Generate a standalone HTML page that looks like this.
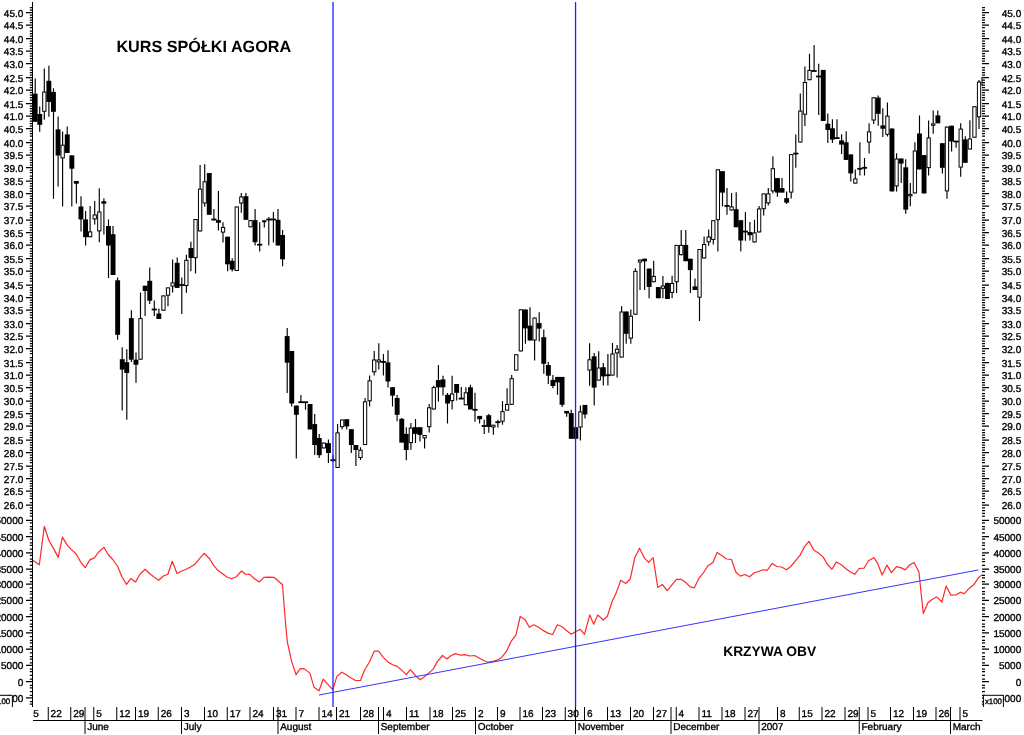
<!DOCTYPE html>
<html lang="pl"><head><meta charset="utf-8"><title>Kurs spółki Agora - OBV</title>
<style>html,body{margin:0;padding:0;background:#fff;overflow:hidden}svg{display:block}text{font-family:"Liberation Sans",Arial,sans-serif;text-rendering:geometricPrecision}</style></head><body>
<svg width="1024" height="735" viewBox="0 0 1024 735">
<rect width="1024" height="735" fill="#fff"/>
<defs><clipPath id="plot"><rect x="33" y="0" width="950" height="707"/></clipPath><clipPath id="bot"><rect x="33" y="700" width="991" height="35"/></clipPath></defs>
<g clip-path="url(#plot)">
<path d="M35.2 78.6V121.8M39.7 106.5V131.8M44.3 68.6V119.8M48.9 65.8V116.8M53.5 88.2V198.7M58.1 116.5V186.5M62.6 131.4V206.5M67.2 126.4V153.0M71.8 155.4V206.5M76.4 181.0V203.5M81.0 196.2V231.4M85.6 211.0V245.5M90.1 206.0V237.2M94.7 201.0V224.4M99.3 188.2V242.2M103.9 198.2V234.4M108.5 219.4V278.0M113.0 226.0V275.0M117.6 277.4V339.7M122.2 347.2V410.6M126.8 349.2V419.7M131.4 310.3V362.0M136.0 352.5V382.8M140.5 292.4V359.7M145.1 285.7V316.0M149.7 267.5V304.0M154.3 300.4V316.0M158.9 308.5V319.0M163.4 295.4V310.7M168.0 287.4V306.2M172.6 259.6V292.4M177.2 257.6V287.9M181.8 277.4V314.0M186.4 254.8V292.7M190.9 241.7V271.3M195.5 219.0V273.4M200.1 165.0V231.4M204.7 164.2V206.8M209.3 173.0V214.8M213.9 209.0V220.6M218.4 191.0V230.6M223.0 222.3V242.6M227.6 236.7V271.3M232.2 258.3V271.6M236.8 206.5V271.0M241.3 192.9V212.8M245.9 192.9V219.8M250.5 220.1V227.3M255.1 209.0V245.5M259.7 222.3V251.4M264.3 220.3V227.6M268.8 217.0V245.5M273.4 212.0V242.6M278.0 209.0V245.5M282.6 230.0V266.3M287.2 328.0V393.0M291.7 351.0V406.4M296.3 405.6V458.4M300.9 395.0V402.2M305.5 402.2V409.7M310.1 404.0V429.4M314.7 414.1V455.0M319.2 433.9V458.0M323.8 442.6V448.4M328.4 439.6V463.0M333.0 455.0V462.0M337.6 424.0V468.0M342.1 419.5V429.5M346.7 419.2V429.4M351.3 429.2V453.0M355.9 445.0V466.0M360.5 447.2V460.0M365.1 398.1V445.1M369.6 375.4V406.3M374.2 351.0V375.6M378.8 343.3V369.5M383.4 354.0V375.6M388.0 350.2V387.6M392.5 387.2V406.4M397.1 395.1V421.3M401.7 418.0V442.6M406.3 427.2V460.2M410.9 423.1V449.7M415.5 418.9V443.1M420.0 427.2V441.4M424.6 435.0V448.4M429.2 404.0V432.6M433.8 385.7V409.5M438.4 365.0V401.4M443.0 375.7V395.6M447.5 393.0V423.6M452.1 375.7V409.4M456.7 384.0V400.6M461.3 387.0V398.6M465.9 387.3V405.3M470.4 384.8V409.4M475.0 392.8V421.7M479.6 415.9V423.4M484.2 419.7V433.9M488.8 413.9V432.7M493.4 424.7V434.7M497.9 419.7V427.5M502.5 401.1V424.7M507.1 388.2V410.6M511.7 374.9V404.8M516.3 354.2V370.6M520.8 309.3V351.4M525.4 309.5V343.8M530.0 307.3V340.5M534.6 317.6V360.6M539.2 312.3V341.4M543.8 329.4V373.7M548.3 362.0V384.0M552.9 374.9V388.2M557.5 376.9V394.8M562.1 376.9V407.0M566.7 410.9V416.7M571.2 409.8V438.8M575.8 427.2V438.8M580.4 405.6V440.5M585.0 404.9V418.4M589.6 343.2V385.8M594.2 353.1V405.5M598.7 351.2V380.6M603.3 363.0V385.5M607.9 354.0V385.5M612.5 343.1V375.6M617.1 345.1V377.6M621.6 306.2V357.6M626.2 311.5V343.8M630.8 309.4V343.8M635.4 268.3V314.7M640.0 259.6V289.9M644.6 258.7V289.9M649.1 268.6V298.2M653.7 260.8V282.2M658.3 287.1V298.2M662.9 276.1V298.2M667.5 282.5V299.0M672.1 275.7V298.2M676.6 244.9V293.0M681.2 230.0V255.2M685.8 230.0V261.2M690.4 258.7V293.0M695.0 278.6V290.0M699.5 249.0V321.0M704.1 236.6V258.5M708.7 229.6V245.7M713.3 220.2V244.4M717.9 169.3V251.5M722.5 171.2V206.4M727.0 188.1V214.7M731.6 193.1V210.5M736.2 192.3V227.2M740.8 220.2V251.5M745.4 211.9V240.7M749.9 222.1V240.6M754.5 219.8V242.4M759.1 206.0V232.4M763.7 193.4V215.6M768.3 188.1V205.5M772.9 156.2V193.4M777.4 178.1V196.7M782.0 178.1V192.6M786.6 191.4V203.9M791.2 154.1V198.4M795.8 134.4V167.8M800.3 93.5V142.5M804.9 66.5V126.0M809.5 53.8V80.2M814.1 45.0V71.0M818.7 63.7V115.0M823.3 69.9V121.0M827.8 113.6V143.0M832.4 119.2V143.0M837.0 119.2V138.1M841.6 134.2V154.0M846.2 131.3V159.9M850.8 154.4V181.6M855.3 169.4V183.6M859.9 142.3V175.6M864.5 158.1V175.6M869.1 123.3V153.5M873.7 97.3V124.0M878.2 95.6V125.8M882.8 108.3V137.0M887.4 102.5V136.5M892.0 128.5V191.4M896.6 153.2V191.4M901.2 158.5V183.0M905.7 159.3V213.8M910.3 183.0V206.3M914.9 142.3V193.4M919.5 115.4V169.4M924.1 155.1V193.4M928.6 120.4V175.6M933.2 110.4V133.7M937.8 110.4V123.3M942.4 143.2V173.6M947.0 126.6V198.8M951.6 125.7V151.5M956.1 141.5V147.8M960.7 123.3V176.7M965.3 136.2V162.8M969.9 120.3V149.5M974.5 106.2V137.7M979.0 80.1V129.1M983.6 77.0V85.7" stroke="#000" stroke-width="1.15" fill="none"/>
<g fill="#fff" stroke="#000" stroke-width="1"><rect x="42.67" y="92.1" width="3.3" height="19.2"/><rect x="61.00" y="145.2" width="3.3" height="12.7"/><rect x="88.49" y="231.9" width="3.3" height="4.8"/><rect x="93.07" y="215.0" width="3.3" height="3.9"/><rect x="97.65" y="212.0" width="3.3" height="18.9"/><rect x="138.89" y="318.6" width="3.3" height="40.6"/><rect x="161.80" y="295.9" width="3.3" height="14.3"/><rect x="166.38" y="287.9" width="3.3" height="7.3"/><rect x="170.96" y="282.9" width="3.3" height="3.2"/><rect x="184.71" y="260.3" width="3.3" height="25.2"/><rect x="193.87" y="219.5" width="3.3" height="38.2"/><rect x="198.46" y="189.1" width="3.3" height="41.8"/><rect x="203.04" y="181.8" width="3.3" height="21.2"/><rect x="221.37" y="227.5" width="3.3" height="4.6"/><rect x="235.11" y="207.0" width="3.3" height="63.5"/><rect x="239.69" y="197.0" width="3.3" height="6.0"/><rect x="248.86" y="220.6" width="3.3" height="6.2"/><rect x="262.60" y="220.8" width="3.3" height="1.0"/><rect x="322.17" y="443.1" width="3.3" height="4.8"/><rect x="335.92" y="432.9" width="3.3" height="34.6"/><rect x="340.50" y="420.0" width="3.3" height="6.7"/><rect x="358.83" y="450.2" width="3.3" height="7.3"/><rect x="363.41" y="401.8" width="3.3" height="42.8"/><rect x="367.99" y="380.9" width="3.3" height="19.9"/><rect x="372.57" y="360.0" width="3.3" height="11.8"/><rect x="377.15" y="360.0" width="3.3" height="1.9"/><rect x="409.23" y="428.1" width="3.3" height="14.5"/><rect x="422.97" y="435.5" width="3.3" height="2.4"/><rect x="427.56" y="407.8" width="3.3" height="18.9"/><rect x="432.14" y="387.6" width="3.3" height="21.4"/><rect x="450.47" y="394.0" width="3.3" height="6.6"/><rect x="464.21" y="392.8" width="3.3" height="12.0"/><rect x="491.70" y="425.2" width="3.3" height="1.8"/><rect x="500.87" y="411.6" width="3.3" height="9.6"/><rect x="505.45" y="404.5" width="3.3" height="5.6"/><rect x="510.03" y="378.7" width="3.3" height="25.6"/><rect x="514.61" y="354.7" width="3.3" height="15.4"/><rect x="519.20" y="309.8" width="3.3" height="41.1"/><rect x="532.94" y="318.1" width="3.3" height="21.9"/><rect x="578.76" y="411.9" width="3.3" height="15.1"/><rect x="587.93" y="359.8" width="3.3" height="10.3"/><rect x="597.09" y="368.0" width="3.3" height="12.1"/><rect x="610.84" y="354.0" width="3.3" height="21.1"/><rect x="615.42" y="349.2" width="3.3" height="3.7"/><rect x="620.00" y="312.0" width="3.3" height="45.1"/><rect x="629.16" y="316.2" width="3.3" height="21.9"/><rect x="633.75" y="271.3" width="3.3" height="42.9"/><rect x="638.33" y="260.1" width="3.3" height="1.9"/><rect x="652.07" y="276.4" width="3.3" height="5.3"/><rect x="661.24" y="286.0" width="3.3" height="2.3"/><rect x="670.40" y="283.5" width="3.3" height="8.9"/><rect x="674.98" y="245.4" width="3.3" height="36.4"/><rect x="679.57" y="245.4" width="3.3" height="9.3"/><rect x="697.89" y="249.5" width="3.3" height="47.7"/><rect x="702.48" y="244.5" width="3.3" height="13.5"/><rect x="707.06" y="237.0" width="3.3" height="4.9"/><rect x="711.64" y="220.7" width="3.3" height="18.7"/><rect x="716.22" y="169.8" width="3.3" height="49.9"/><rect x="729.97" y="206.9" width="3.3" height="3.1"/><rect x="752.88" y="232.9" width="3.3" height="9.0"/><rect x="757.46" y="209.0" width="3.3" height="22.9"/><rect x="762.04" y="193.9" width="3.3" height="14.8"/><rect x="766.62" y="193.9" width="3.3" height="9.0"/><rect x="771.21" y="168.7" width="3.3" height="22.2"/><rect x="789.53" y="154.6" width="3.3" height="37.5"/><rect x="798.70" y="111.1" width="3.3" height="30.9"/><rect x="803.28" y="82.5" width="3.3" height="31.7"/><rect x="807.86" y="70.4" width="3.3" height="9.3"/><rect x="853.68" y="178.9" width="3.3" height="4.2"/><rect x="867.43" y="131.9" width="3.3" height="10.1"/><rect x="872.01" y="97.8" width="3.3" height="22.2"/><rect x="885.76" y="116.1" width="3.3" height="18.2"/><rect x="894.92" y="159.0" width="3.3" height="26.9"/><rect x="908.67" y="194.4" width="3.3" height="1.4"/><rect x="913.25" y="151.0" width="3.3" height="41.9"/><rect x="926.99" y="137.9" width="3.3" height="29.7"/><rect x="931.58" y="123.9" width="3.3" height="1.4"/><rect x="945.32" y="127.1" width="3.3" height="63.8"/><rect x="959.07" y="129.1" width="3.3" height="38.0"/><rect x="968.23" y="139.0" width="3.3" height="10.0"/><rect x="972.81" y="106.7" width="3.3" height="30.5"/><rect x="977.40" y="82.1" width="3.3" height="34.7"/><rect x="981.98" y="77.5" width="3.3" height="7.7"/></g>
<g fill="#000"><rect x="32.7" y="93.7" width="4.9" height="28.1"/><rect x="37.3" y="114.0" width="4.9" height="10.8"/><rect x="46.4" y="80.8" width="4.9" height="21.1"/><rect x="51.0" y="91.9" width="4.9" height="19.9"/><rect x="55.6" y="129.4" width="4.9" height="26.1"/><rect x="64.8" y="134.4" width="4.9" height="18.6"/><rect x="69.4" y="155.4" width="4.9" height="13.3"/><rect x="73.9" y="181.0" width="4.9" height="2.7"/><rect x="78.5" y="206.5" width="4.9" height="12.9"/><rect x="83.1" y="219.4" width="4.9" height="17.8"/><rect x="101.4" y="201.2" width="4.9" height="2.5"/><rect x="106.0" y="226.0" width="4.9" height="19.5"/><rect x="110.6" y="234.2" width="4.9" height="40.8"/><rect x="115.2" y="280.3" width="4.9" height="54.5"/><rect x="119.8" y="359.2" width="4.9" height="10.4"/><rect x="124.3" y="362.2" width="4.9" height="10.8"/><rect x="128.9" y="318.1" width="4.9" height="41.6"/><rect x="133.5" y="359.7" width="4.9" height="5.0"/><rect x="142.7" y="285.7" width="4.9" height="5.3"/><rect x="147.3" y="280.8" width="4.9" height="19.9"/><rect x="151.7" y="308.6" width="5.2" height="1.8"/><rect x="156.4" y="313.5" width="4.9" height="5.5"/><rect x="174.7" y="262.8" width="4.9" height="25.1"/><rect x="179.2" y="284.1" width="5.2" height="1.8"/><rect x="188.5" y="248.0" width="4.9" height="10.0"/><rect x="206.8" y="173.0" width="4.9" height="41.8"/><rect x="211.3" y="218.6" width="5.2" height="1.8"/><rect x="216.0" y="220.1" width="4.9" height="2.7"/><rect x="225.1" y="236.7" width="4.9" height="27.6"/><rect x="229.7" y="260.8" width="4.9" height="8.8"/><rect x="243.5" y="196.2" width="4.9" height="23.6"/><rect x="252.6" y="220.1" width="4.9" height="22.1"/><rect x="257.1" y="243.8" width="5.2" height="1.8"/><rect x="266.2" y="218.6" width="5.2" height="1.8"/><rect x="270.8" y="218.6" width="5.2" height="1.8"/><rect x="275.6" y="219.8" width="4.9" height="25.7"/><rect x="280.1" y="235.0" width="4.9" height="24.3"/><rect x="284.7" y="336.1" width="4.9" height="26.6"/><rect x="289.3" y="351.0" width="4.9" height="52.5"/><rect x="293.9" y="405.6" width="4.9" height="9.2"/><rect x="298.3" y="401.3" width="5.2" height="1.8"/><rect x="302.9" y="401.3" width="5.2" height="1.8"/><rect x="307.6" y="404.0" width="4.9" height="25.4"/><rect x="312.2" y="424.1" width="4.9" height="20.9"/><rect x="316.8" y="438.0" width="4.9" height="17.2"/><rect x="326.0" y="443.1" width="4.9" height="9.9"/><rect x="330.4" y="459.3" width="5.2" height="1.8"/><rect x="344.3" y="419.2" width="4.9" height="7.2"/><rect x="348.9" y="429.2" width="4.9" height="15.8"/><rect x="353.4" y="445.0" width="4.9" height="5.0"/><rect x="380.8" y="361.0" width="5.2" height="1.8"/><rect x="385.5" y="362.4" width="4.9" height="19.1"/><rect x="390.1" y="387.2" width="4.9" height="8.4"/><rect x="394.7" y="398.0" width="4.9" height="16.8"/><rect x="399.3" y="418.8" width="4.9" height="23.8"/><rect x="403.8" y="433.9" width="4.9" height="16.1"/><rect x="413.0" y="427.2" width="4.9" height="6.7"/><rect x="417.6" y="427.2" width="4.9" height="7.7"/><rect x="435.9" y="380.1" width="4.9" height="7.3"/><rect x="440.5" y="379.4" width="4.9" height="7.9"/><rect x="445.1" y="394.8" width="4.9" height="8.7"/><rect x="454.2" y="384.0" width="4.9" height="8.8"/><rect x="458.7" y="397.7" width="5.2" height="1.8"/><rect x="468.0" y="387.3" width="4.9" height="22.1"/><rect x="472.4" y="408.9" width="5.2" height="1.8"/><rect x="477.2" y="415.9" width="4.9" height="3.3"/><rect x="481.6" y="425.1" width="5.2" height="1.8"/><rect x="486.3" y="415.2" width="4.9" height="11.7"/><rect x="495.3" y="421.3" width="5.2" height="1.8"/><rect x="523.0" y="309.5" width="4.9" height="18.9"/><rect x="527.6" y="325.6" width="4.9" height="14.9"/><rect x="536.7" y="323.1" width="4.9" height="5.5"/><rect x="541.3" y="337.2" width="4.9" height="26.6"/><rect x="545.9" y="365.0" width="4.9" height="10.7"/><rect x="550.5" y="379.9" width="4.9" height="6.1"/><rect x="555.1" y="376.9" width="4.9" height="5.5"/><rect x="559.6" y="376.9" width="4.9" height="27.9"/><rect x="564.2" y="410.9" width="4.9" height="2.5"/><rect x="568.8" y="413.1" width="4.9" height="25.7"/><rect x="573.4" y="427.2" width="4.9" height="11.6"/><rect x="582.5" y="404.9" width="4.9" height="9.6"/><rect x="591.7" y="356.3" width="4.9" height="31.3"/><rect x="600.9" y="367.2" width="4.9" height="9.2"/><rect x="605.3" y="374.3" width="5.2" height="1.8"/><rect x="623.8" y="311.5" width="4.9" height="22.3"/><rect x="642.1" y="258.7" width="4.9" height="2.6"/><rect x="646.7" y="268.6" width="4.9" height="18.4"/><rect x="655.9" y="287.1" width="4.9" height="11.1"/><rect x="665.0" y="283.0" width="4.9" height="16.0"/><rect x="683.3" y="244.9" width="4.9" height="16.3"/><rect x="687.9" y="258.7" width="4.9" height="11.4"/><rect x="692.5" y="286.4" width="4.9" height="3.6"/><rect x="720.0" y="171.2" width="4.9" height="21.4"/><rect x="724.4" y="205.0" width="5.2" height="1.8"/><rect x="733.7" y="209.2" width="4.9" height="18.0"/><rect x="738.3" y="220.2" width="4.9" height="20.3"/><rect x="742.8" y="230.7" width="5.2" height="1.8"/><rect x="747.5" y="232.0" width="4.9" height="3.2"/><rect x="775.0" y="178.1" width="4.9" height="14.5"/><rect x="779.6" y="188.1" width="4.9" height="4.5"/><rect x="784.2" y="198.1" width="4.9" height="4.6"/><rect x="793.2" y="152.7" width="5.2" height="1.8"/><rect x="811.5" y="70.1" width="5.2" height="1.8"/><rect x="816.1" y="75.6" width="5.2" height="1.8"/><rect x="820.8" y="69.9" width="4.9" height="51.1"/><rect x="825.4" y="123.7" width="4.9" height="6.3"/><rect x="830.0" y="128.3" width="4.9" height="11.3"/><rect x="834.4" y="137.2" width="5.2" height="1.8"/><rect x="839.1" y="140.4" width="4.9" height="4.2"/><rect x="843.7" y="142.3" width="4.9" height="17.6"/><rect x="848.3" y="154.4" width="4.9" height="19.0"/><rect x="857.3" y="167.9" width="5.2" height="1.8"/><rect x="861.9" y="166.9" width="5.2" height="1.8"/><rect x="875.8" y="97.6" width="4.9" height="16.2"/><rect x="880.4" y="125.4" width="4.9" height="3.3"/><rect x="889.5" y="128.5" width="4.9" height="62.9"/><rect x="898.7" y="158.5" width="4.9" height="5.1"/><rect x="903.3" y="167.3" width="4.9" height="42.3"/><rect x="917.0" y="133.5" width="4.9" height="35.9"/><rect x="921.6" y="155.1" width="4.9" height="38.3"/><rect x="935.4" y="115.4" width="4.9" height="7.9"/><rect x="939.9" y="143.2" width="4.9" height="24.6"/><rect x="949.1" y="125.7" width="4.9" height="15.8"/><rect x="953.5" y="140.6" width="5.2" height="1.8"/><rect x="962.8" y="139.4" width="4.9" height="23.4"/></g>
<polyline fill="none" stroke="#ff2828" stroke-width="1.2" stroke-linejoin="round" points="32.7,560.2 39.3,564.8 44.3,526.3 48.8,540.2 53.2,547.9 58.2,557.4 62.4,537.1 67.4,545.4 71.5,549.6 76.2,554.0 80.8,562.3 85.3,567.7 89.8,559.9 94.4,557.9 99.1,551.5 103.9,547.4 108.2,554.5 112.7,559.5 117.7,566.5 121.9,576.8 126.5,584.4 130.7,578.6 135.6,581.9 140.1,574.0 145.1,569.3 149.6,573.5 154.2,577.3 158.7,580.3 163.4,576.0 167.9,574.3 172.2,561.2 177.0,573.5 181.7,571.0 185.8,569.5 190.5,567.0 194.6,564.6 199.1,559.1 204.1,553.3 209.6,558.7 213.3,564.9 217.4,569.9 221.9,573.2 226.9,577.0 231.5,578.7 236.2,576.8 241.5,571.0 245.6,574.2 249.8,574.4 254.8,579.0 259.3,582.0 263.9,577.3 268.9,577.2 273.9,577.3 278.0,580.7 282.5,584.8 284.0,604.5 285.7,625.0 287.3,641.8 291.6,661.4 296.1,674.7 299.9,668.9 304.1,668.6 309.9,673.1 314.0,687.2 319.0,690.8 323.2,679.2 328.1,684.7 332.8,689.7 336.9,676.4 341.8,672.2 346.4,674.7 351.1,678.0 355.5,680.5 360.5,680.5 364.7,669.7 369.3,662.3 374.3,651.1 378.5,651.1 383.3,657.3 387.9,661.9 392.6,664.8 397.1,666.4 401.7,670.2 406.2,674.7 410.4,669.7 415.3,675.5 420.0,679.7 424.5,676.7 428.6,673.1 433.2,669.1 437.5,661.4 442.5,655.5 446.6,658.9 451.3,655.5 455.7,653.6 460.4,655.2 464.9,654.7 469.9,656.0 474.5,655.5 479.0,658.0 483.7,660.5 488.1,662.2 492.8,661.4 497.3,660.2 501.9,657.2 506.4,651.4 511.1,641.4 516.0,634.8 520.2,616.5 525.0,619.5 529.3,627.3 533.8,624.8 538.5,627.3 543.3,630.6 547.9,633.1 552.6,634.5 557.4,624.8 561.7,626.5 566.2,630.3 571.2,634.3 575.8,631.5 580.3,629.3 584.5,634.3 589.8,614.9 593.7,624.2 597.8,615.0 603.3,620.0 607.4,616.3 612.1,601.4 616.6,591.9 620.7,580.3 625.7,583.5 630.2,579.0 634.9,557.4 639.5,548.2 644.5,558.2 648.6,562.4 653.1,557.7 657.8,587.6 662.3,584.5 667.2,590.6 671.9,584.8 676.4,579.3 681.0,579.3 685.5,582.3 690.2,586.9 694.3,587.8 699.1,578.1 703.8,572.3 707.9,565.7 712.9,562.4 717.1,552.4 722.1,555.7 726.5,559.0 731.5,559.5 735.8,572.0 740.3,576.1 744.8,574.5 749.5,576.8 754.3,572.8 758.3,571.5 763.0,569.8 767.4,570.2 772.1,563.5 776.9,566.5 781.6,567.0 786.5,569.8 790.7,566.5 795.2,561.2 799.8,555.7 804.5,546.6 809.0,541.3 813.6,549.9 818.1,552.7 823.1,556.9 827.2,564.0 831.9,569.3 836.4,561.9 841.0,564.5 846.0,568.7 850.2,571.8 854.7,574.3 859.1,568.5 864.1,568.2 868.4,560.7 873.8,557.7 877.6,563.2 882.1,575.0 887.0,565.1 891.4,572.6 896.5,566.7 900.7,567.6 905.3,569.9 909.6,565.0 914.1,562.4 919.0,572.2 920.8,590.3 923.3,613.5 927.8,603.0 932.0,599.5 936.7,596.9 941.9,602.0 946.1,586.1 951.0,595.2 955.9,595.0 960.5,592.2 964.4,593.6 969.3,588.2 973.5,585.1 978.5,577.7 982.0,574.6"/>
</g>
<line x1="319" y1="695" x2="978.5" y2="569.9" stroke="#3434ff" stroke-width="1.0"/>
<rect x="332.35" y="2" width="1.3" height="705" fill="#2222ff"/>
<rect x="574.9" y="2" width="1.3" height="705" fill="#2020ff"/>
<rect x="32" y="2" width="1" height="705" fill="#000"/>
<path d="M26 504.38H32.5V505.63H26ZM29.8 501.88H32.5V503.13H29.8ZM29.8 498.12H32.5V499.37H29.8ZM29.8 495.62H32.5V496.87H29.8ZM29.8 493.12H32.5V494.37H29.8ZM26 490.62H32.5V491.87H26ZM29.8 488.12H32.5V489.37H29.8ZM29.8 485.62H32.5V486.87H29.8ZM29.8 483.12H32.5V484.37H29.8ZM29.8 480.62H32.5V481.87H29.8ZM26 478.12H32.5V479.37H26ZM29.8 475.62H32.5V476.87H29.8ZM29.8 473.12H32.5V474.37H29.8ZM29.8 470.62H32.5V471.87H29.8ZM29.8 468.12H32.5V469.37H29.8ZM26 465.62H32.5V466.87H26ZM29.8 461.88H32.5V463.13H29.8ZM29.8 459.38H32.5V460.63H29.8ZM29.8 456.88H32.5V458.13H29.8ZM29.8 454.38H32.5V455.63H29.8ZM26 451.88H32.5V453.13H26ZM29.8 449.38H32.5V450.63H29.8ZM29.8 446.88H32.5V448.13H29.8ZM29.8 444.38H32.5V445.63H29.8ZM29.8 441.88H32.5V443.13H29.8ZM26 439.38H32.5V440.63H26ZM29.8 436.88H32.5V438.13H29.8ZM29.8 434.38H32.5V435.63H29.8ZM29.8 431.88H32.5V433.13H29.8ZM29.8 429.38H32.5V430.63H29.8ZM26 425.62H32.5V426.87H26ZM29.8 423.12H32.5V424.37H29.8ZM29.8 420.62H32.5V421.87H29.8ZM29.8 418.12H32.5V419.37H29.8ZM29.8 415.62H32.5V416.87H29.8ZM26 413.12H32.5V414.37H26ZM29.8 410.62H32.5V411.87H29.8ZM29.8 408.12H32.5V409.37H29.8ZM29.8 405.62H32.5V406.87H29.8ZM29.8 403.12H32.5V404.37H29.8ZM26 400.62H32.5V401.87H26ZM29.8 398.12H32.5V399.37H29.8ZM29.8 395.62H32.5V396.87H29.8ZM29.8 393.12H32.5V394.37H29.8ZM29.8 389.38H32.5V390.63H29.8ZM26 386.88H32.5V388.13H26ZM29.8 384.38H32.5V385.63H29.8ZM29.8 381.88H32.5V383.13H29.8ZM29.8 379.38H32.5V380.63H29.8ZM29.8 376.88H32.5V378.13H29.8ZM26 374.38H32.5V375.63H26ZM29.8 371.88H32.5V373.13H29.8ZM29.8 369.38H32.5V370.63H29.8ZM29.8 366.88H32.5V368.13H29.8ZM29.8 364.38H32.5V365.63H29.8ZM26 361.88H32.5V363.13H26ZM29.8 359.38H32.5V360.63H29.8ZM29.8 356.88H32.5V358.13H29.8ZM29.8 353.12H32.5V354.37H29.8ZM29.8 350.62H32.5V351.87H29.8ZM26 348.12H32.5V349.37H26ZM29.8 345.62H32.5V346.87H29.8ZM29.8 343.12H32.5V344.37H29.8ZM29.8 340.62H32.5V341.87H29.8ZM29.8 338.12H32.5V339.37H29.8ZM26 335.62H32.5V336.87H26ZM29.8 333.12H32.5V334.37H29.8ZM29.8 330.62H32.5V331.87H29.8ZM29.8 328.12H32.5V329.37H29.8ZM29.8 325.62H32.5V326.87H29.8ZM26 323.12H32.5V324.37H26ZM29.8 320.62H32.5V321.87H29.8ZM29.8 316.88H32.5V318.13H29.8ZM29.8 314.38H32.5V315.63H29.8ZM29.8 311.88H32.5V313.13H29.8ZM26 309.38H32.5V310.63H26ZM29.8 306.88H32.5V308.13H29.8ZM29.8 304.38H32.5V305.63H29.8ZM29.8 301.88H32.5V303.13H29.8ZM29.8 299.38H32.5V300.63H29.8ZM26 296.88H32.5V298.13H26ZM29.8 294.38H32.5V295.63H29.8ZM29.8 291.88H32.5V293.13H29.8ZM29.8 289.38H32.5V290.63H29.8ZM29.8 286.88H32.5V288.13H29.8ZM26 284.38H32.5V285.63H26ZM29.8 280.62H32.5V281.87H29.8ZM29.8 278.12H32.5V279.37H29.8ZM29.8 275.62H32.5V276.87H29.8ZM29.8 273.12H32.5V274.37H29.8ZM26 270.62H32.5V271.87H26ZM29.8 268.12H32.5V269.37H29.8ZM29.8 265.62H32.5V266.87H29.8ZM29.8 263.12H32.5V264.37H29.8ZM29.8 260.62H32.5V261.87H29.8ZM26 258.12H32.5V259.37H26ZM29.8 255.62H32.5V256.87H29.8ZM29.8 253.12H32.5V254.37H29.8ZM29.8 250.62H32.5V251.87H29.8ZM29.8 248.12H32.5V249.37H29.8ZM26 244.38H32.5V245.63H26ZM29.8 241.88H32.5V243.13H29.8ZM29.8 239.38H32.5V240.63H29.8ZM29.8 236.88H32.5V238.13H29.8ZM29.8 234.38H32.5V235.63H29.8ZM26 231.88H32.5V233.13H26ZM29.8 229.38H32.5V230.63H29.8ZM29.8 226.88H32.5V228.13H29.8ZM29.8 224.38H32.5V225.63H29.8ZM29.8 221.88H32.5V223.13H29.8ZM26 219.38H32.5V220.63H26ZM29.8 216.88H32.5V218.13H29.8ZM29.8 214.38H32.5V215.63H29.8ZM29.8 211.88H32.5V213.13H29.8ZM29.8 208.12H32.5V209.37H29.8ZM26 205.62H32.5V206.87H26ZM29.8 203.12H32.5V204.37H29.8ZM29.8 200.62H32.5V201.87H29.8ZM29.8 198.12H32.5V199.37H29.8ZM29.8 195.62H32.5V196.87H29.8ZM26 193.12H32.5V194.37H26ZM29.8 190.62H32.5V191.87H29.8ZM29.8 188.12H32.5V189.37H29.8ZM29.8 185.62H32.5V186.87H29.8ZM29.8 183.12H32.5V184.37H29.8ZM26 180.62H32.5V181.87H26ZM29.8 178.12H32.5V179.37H29.8ZM29.8 175.62H32.5V176.87H29.8ZM29.8 171.88H32.5V173.13H29.8ZM29.8 169.38H32.5V170.63H29.8ZM26 166.88H32.5V168.13H26ZM29.8 164.38H32.5V165.63H29.8ZM29.8 161.88H32.5V163.13H29.8ZM29.8 159.38H32.5V160.63H29.8ZM29.8 156.88H32.5V158.13H29.8ZM26 154.38H32.5V155.63H26ZM29.8 151.88H32.5V153.13H29.8ZM29.8 149.38H32.5V150.63H29.8ZM29.8 146.88H32.5V148.13H29.8ZM29.8 144.38H32.5V145.63H29.8ZM26 141.88H32.5V143.13H26ZM29.8 139.38H32.5V140.63H29.8ZM29.8 135.62H32.5V136.87H29.8ZM29.8 133.12H32.5V134.37H29.8ZM29.8 130.62H32.5V131.87H29.8ZM26 128.12H32.5V129.37H26ZM29.8 125.62H32.5V126.87H29.8ZM29.8 123.12H32.5V124.37H29.8ZM29.8 120.62H32.5V121.87H29.8ZM29.8 118.12H32.5V119.37H29.8ZM26 115.62H32.5V116.87H26ZM29.8 113.12H32.5V114.37H29.8ZM29.8 110.62H32.5V111.87H29.8ZM29.8 108.12H32.5V109.37H29.8ZM29.8 105.62H32.5V106.87H29.8ZM26 103.12H32.5V104.37H26ZM29.8 99.38H32.5V100.63H29.8ZM29.8 96.88H32.5V98.13H29.8ZM29.8 94.38H32.5V95.63H29.8ZM29.8 91.88H32.5V93.13H29.8ZM26 89.38H32.5V90.63H26ZM29.8 86.88H32.5V88.13H29.8ZM29.8 84.38H32.5V85.63H29.8ZM29.8 81.88H32.5V83.13H29.8ZM29.8 79.38H32.5V80.63H29.8ZM26 76.88H32.5V78.13H26ZM29.8 74.38H32.5V75.63H29.8ZM29.8 71.88H32.5V73.13H29.8ZM29.8 69.38H32.5V70.63H29.8ZM29.8 66.88H32.5V68.13H29.8ZM26 63.12H32.5V64.37H26ZM29.8 60.62H32.5V61.87H29.8ZM29.8 58.12H32.5V59.37H29.8ZM29.8 55.62H32.5V56.87H29.8ZM29.8 53.12H32.5V54.37H29.8ZM26 50.62H32.5V51.87H26ZM29.8 48.12H32.5V49.37H29.8ZM29.8 45.62H32.5V46.87H29.8ZM29.8 43.12H32.5V44.37H29.8ZM29.8 40.62H32.5V41.87H29.8ZM26 38.12H32.5V39.37H26ZM29.8 35.62H32.5V36.87H29.8ZM29.8 33.12H32.5V34.37H29.8ZM29.8 30.62H32.5V31.87H29.8ZM29.8 26.88H32.5V28.13H29.8ZM26 24.38H32.5V25.63H26ZM29.8 21.88H32.5V23.13H29.8ZM29.8 19.38H32.5V20.63H29.8ZM29.8 16.88H32.5V18.13H29.8ZM29.8 14.38H32.5V15.63H29.8ZM26 11.88H32.5V13.13H26ZM29.8 9.38H32.5V10.63H29.8ZM29.8 6.88H32.5V8.13H29.8ZM29.8 703.48H32.5V704.73H29.8ZM29.8 700.98H32.5V702.23H29.8ZM26 697.23H32.5V698.48H26ZM29.8 694.73H32.5V695.98H29.8ZM29.8 690.98H32.5V692.23H29.8ZM29.8 687.23H32.5V688.48H29.8ZM29.8 684.73H32.5V685.98H29.8ZM26 680.98H32.5V682.23H26ZM29.8 678.48H32.5V679.73H29.8ZM29.8 674.73H32.5V675.98H29.8ZM29.8 670.98H32.5V672.23H29.8ZM29.8 668.48H32.5V669.73H29.8ZM26 664.73H32.5V665.98H26ZM29.8 662.23H32.5V663.48H29.8ZM29.8 658.48H32.5V659.73H29.8ZM29.8 655.98H32.5V657.23H29.8ZM29.8 652.23H32.5V653.48H29.8ZM26 648.48H32.5V649.73H26ZM29.8 645.98H32.5V647.23H29.8ZM29.8 642.23H32.5V643.48H29.8ZM29.8 639.73H32.5V640.98H29.8ZM29.8 635.98H32.5V637.23H29.8ZM26 632.23H32.5V633.48H26ZM29.8 629.73H32.5V630.98H29.8ZM29.8 625.98H32.5V627.23H29.8ZM29.8 623.48H32.5V624.73H29.8ZM29.8 619.73H32.5V620.98H29.8ZM26 615.98H32.5V617.23H26ZM29.8 613.48H32.5V614.73H29.8ZM29.8 609.73H32.5V610.98H29.8ZM29.8 607.23H32.5V608.48H29.8ZM29.8 603.48H32.5V604.73H29.8ZM26 599.73H32.5V600.98H26ZM29.8 597.23H32.5V598.48H29.8ZM29.8 593.48H32.5V594.73H29.8ZM29.8 590.98H32.5V592.23H29.8ZM29.8 587.23H32.5V588.48H29.8ZM26 583.48H32.5V584.73H26ZM29.8 580.98H32.5V582.23H29.8ZM29.8 577.23H32.5V578.48H29.8ZM29.8 574.73H32.5V575.98H29.8ZM29.8 570.98H32.5V572.23H29.8ZM26 568.48H32.5V569.73H26ZM29.8 564.73H32.5V565.98H29.8ZM29.8 560.98H32.5V562.23H29.8ZM29.8 558.48H32.5V559.73H29.8ZM29.8 554.73H32.5V555.98H29.8ZM26 552.23H32.5V553.48H26ZM29.8 548.48H32.5V549.73H29.8ZM29.8 544.73H32.5V545.98H29.8ZM29.8 542.23H32.5V543.48H29.8ZM29.8 538.48H32.5V539.73H29.8ZM26 535.98H32.5V537.23H26ZM29.8 532.23H32.5V533.48H29.8ZM29.8 528.48H32.5V529.73H29.8ZM29.8 525.98H32.5V527.23H29.8ZM29.8 522.23H32.5V523.48H29.8ZM26 519.73H32.5V520.98H26ZM29.8 507.18H32.5V508.43H29.8ZM29.8 509.98H32.5V511.23H29.8ZM29.8 512.77H32.5V514.02H29.8ZM29.8 515.62H32.5V516.87H29.8Z" fill="#000"/>
<path d="M982 504.38H989V505.63H982ZM982 501.88H985V503.13H982ZM982 498.12H985V499.37H982ZM982 495.62H985V496.87H982ZM982 493.12H985V494.37H982ZM982 490.62H989V491.87H982ZM982 488.12H985V489.37H982ZM982 485.62H985V486.87H982ZM982 483.12H985V484.37H982ZM982 480.62H985V481.87H982ZM982 478.12H989V479.37H982ZM982 475.62H985V476.87H982ZM982 473.12H985V474.37H982ZM982 470.62H985V471.87H982ZM982 468.12H985V469.37H982ZM982 465.62H989V466.87H982ZM982 461.88H985V463.13H982ZM982 459.38H985V460.63H982ZM982 456.88H985V458.13H982ZM982 454.38H985V455.63H982ZM982 451.88H989V453.13H982ZM982 449.38H985V450.63H982ZM982 446.88H985V448.13H982ZM982 444.38H985V445.63H982ZM982 441.88H985V443.13H982ZM982 439.38H989V440.63H982ZM982 436.88H985V438.13H982ZM982 434.38H985V435.63H982ZM982 431.88H985V433.13H982ZM982 429.38H985V430.63H982ZM982 425.62H989V426.87H982ZM982 423.12H985V424.37H982ZM982 420.62H985V421.87H982ZM982 418.12H985V419.37H982ZM982 415.62H985V416.87H982ZM982 413.12H989V414.37H982ZM982 410.62H985V411.87H982ZM982 408.12H985V409.37H982ZM982 405.62H985V406.87H982ZM982 403.12H985V404.37H982ZM982 400.62H989V401.87H982ZM982 398.12H985V399.37H982ZM982 395.62H985V396.87H982ZM982 393.12H985V394.37H982ZM982 389.38H985V390.63H982ZM982 386.88H989V388.13H982ZM982 384.38H985V385.63H982ZM982 381.88H985V383.13H982ZM982 379.38H985V380.63H982ZM982 376.88H985V378.13H982ZM982 374.38H989V375.63H982ZM982 371.88H985V373.13H982ZM982 369.38H985V370.63H982ZM982 366.88H985V368.13H982ZM982 364.38H985V365.63H982ZM982 361.88H989V363.13H982ZM982 359.38H985V360.63H982ZM982 356.88H985V358.13H982ZM982 353.12H985V354.37H982ZM982 350.62H985V351.87H982ZM982 348.12H989V349.37H982ZM982 345.62H985V346.87H982ZM982 343.12H985V344.37H982ZM982 340.62H985V341.87H982ZM982 338.12H985V339.37H982ZM982 335.62H989V336.87H982ZM982 333.12H985V334.37H982ZM982 330.62H985V331.87H982ZM982 328.12H985V329.37H982ZM982 325.62H985V326.87H982ZM982 323.12H989V324.37H982ZM982 320.62H985V321.87H982ZM982 316.88H985V318.13H982ZM982 314.38H985V315.63H982ZM982 311.88H985V313.13H982ZM982 309.38H989V310.63H982ZM982 306.88H985V308.13H982ZM982 304.38H985V305.63H982ZM982 301.88H985V303.13H982ZM982 299.38H985V300.63H982ZM982 296.88H989V298.13H982ZM982 294.38H985V295.63H982ZM982 291.88H985V293.13H982ZM982 289.38H985V290.63H982ZM982 286.88H985V288.13H982ZM982 284.38H989V285.63H982ZM982 280.62H985V281.87H982ZM982 278.12H985V279.37H982ZM982 275.62H985V276.87H982ZM982 273.12H985V274.37H982ZM982 270.62H989V271.87H982ZM982 268.12H985V269.37H982ZM982 265.62H985V266.87H982ZM982 263.12H985V264.37H982ZM982 260.62H985V261.87H982ZM982 258.12H989V259.37H982ZM982 255.62H985V256.87H982ZM982 253.12H985V254.37H982ZM982 250.62H985V251.87H982ZM982 248.12H985V249.37H982ZM982 244.38H989V245.63H982ZM982 241.88H985V243.13H982ZM982 239.38H985V240.63H982ZM982 236.88H985V238.13H982ZM982 234.38H985V235.63H982ZM982 231.88H989V233.13H982ZM982 229.38H985V230.63H982ZM982 226.88H985V228.13H982ZM982 224.38H985V225.63H982ZM982 221.88H985V223.13H982ZM982 219.38H989V220.63H982ZM982 216.88H985V218.13H982ZM982 214.38H985V215.63H982ZM982 211.88H985V213.13H982ZM982 208.12H985V209.37H982ZM982 205.62H989V206.87H982ZM982 203.12H985V204.37H982ZM982 200.62H985V201.87H982ZM982 198.12H985V199.37H982ZM982 195.62H985V196.87H982ZM982 193.12H989V194.37H982ZM982 190.62H985V191.87H982ZM982 188.12H985V189.37H982ZM982 185.62H985V186.87H982ZM982 183.12H985V184.37H982ZM982 180.62H989V181.87H982ZM982 178.12H985V179.37H982ZM982 175.62H985V176.87H982ZM982 171.88H985V173.13H982ZM982 169.38H985V170.63H982ZM982 166.88H989V168.13H982ZM982 164.38H985V165.63H982ZM982 161.88H985V163.13H982ZM982 159.38H985V160.63H982ZM982 156.88H985V158.13H982ZM982 154.38H989V155.63H982ZM982 151.88H985V153.13H982ZM982 149.38H985V150.63H982ZM982 146.88H985V148.13H982ZM982 144.38H985V145.63H982ZM982 141.88H989V143.13H982ZM982 139.38H985V140.63H982ZM982 135.62H985V136.87H982ZM982 133.12H985V134.37H982ZM982 130.62H985V131.87H982ZM982 128.12H989V129.37H982ZM982 125.62H985V126.87H982ZM982 123.12H985V124.37H982ZM982 120.62H985V121.87H982ZM982 118.12H985V119.37H982ZM982 115.62H989V116.87H982ZM982 113.12H985V114.37H982ZM982 110.62H985V111.87H982ZM982 108.12H985V109.37H982ZM982 105.62H985V106.87H982ZM982 103.12H989V104.37H982ZM982 99.38H985V100.63H982ZM982 96.88H985V98.13H982ZM982 94.38H985V95.63H982ZM982 91.88H985V93.13H982ZM982 89.38H989V90.63H982ZM982 86.88H985V88.13H982ZM982 84.38H985V85.63H982ZM982 81.88H985V83.13H982ZM982 79.38H985V80.63H982ZM982 76.88H989V78.13H982ZM982 74.38H985V75.63H982ZM982 71.88H985V73.13H982ZM982 69.38H985V70.63H982ZM982 66.88H985V68.13H982ZM982 63.12H989V64.37H982ZM982 60.62H985V61.87H982ZM982 58.12H985V59.37H982ZM982 55.62H985V56.87H982ZM982 53.12H985V54.37H982ZM982 50.62H989V51.87H982ZM982 48.12H985V49.37H982ZM982 45.62H985V46.87H982ZM982 43.12H985V44.37H982ZM982 40.62H985V41.87H982ZM982 38.12H989V39.37H982ZM982 35.62H985V36.87H982ZM982 33.12H985V34.37H982ZM982 30.62H985V31.87H982ZM982 26.88H985V28.13H982ZM982 24.38H989V25.63H982ZM982 21.88H985V23.13H982ZM982 19.38H985V20.63H982ZM982 16.88H985V18.13H982ZM982 14.38H985V15.63H982ZM982 11.88H989V13.13H982ZM982 9.38H985V10.63H982ZM982 6.88H985V8.13H982ZM982 703.48H985V704.73H982ZM982 700.98H985V702.23H982ZM982 697.23H989V698.48H982ZM982 694.73H985V695.98H982ZM982 690.98H985V692.23H982ZM982 687.23H985V688.48H982ZM982 684.73H985V685.98H982ZM982 680.98H989V682.23H982ZM982 678.48H985V679.73H982ZM982 674.73H985V675.98H982ZM982 670.98H985V672.23H982ZM982 668.48H985V669.73H982ZM982 664.73H989V665.98H982ZM982 662.23H985V663.48H982ZM982 658.48H985V659.73H982ZM982 655.98H985V657.23H982ZM982 652.23H985V653.48H982ZM982 648.48H989V649.73H982ZM982 645.98H985V647.23H982ZM982 642.23H985V643.48H982ZM982 639.73H985V640.98H982ZM982 635.98H985V637.23H982ZM982 632.23H989V633.48H982ZM982 629.73H985V630.98H982ZM982 625.98H985V627.23H982ZM982 623.48H985V624.73H982ZM982 619.73H985V620.98H982ZM982 615.98H989V617.23H982ZM982 613.48H985V614.73H982ZM982 609.73H985V610.98H982ZM982 607.23H985V608.48H982ZM982 603.48H985V604.73H982ZM982 599.73H989V600.98H982ZM982 597.23H985V598.48H982ZM982 593.48H985V594.73H982ZM982 590.98H985V592.23H982ZM982 587.23H985V588.48H982ZM982 583.48H989V584.73H982ZM982 580.98H985V582.23H982ZM982 577.23H985V578.48H982ZM982 574.73H985V575.98H982ZM982 570.98H985V572.23H982ZM982 568.48H989V569.73H982ZM982 564.73H985V565.98H982ZM982 560.98H985V562.23H982ZM982 558.48H985V559.73H982ZM982 554.73H985V555.98H982ZM982 552.23H989V553.48H982ZM982 548.48H985V549.73H982ZM982 544.73H985V545.98H982ZM982 542.23H985V543.48H982ZM982 538.48H985V539.73H982ZM982 535.98H989V537.23H982ZM982 532.23H985V533.48H982ZM982 528.48H985V529.73H982ZM982 525.98H985V527.23H982ZM982 522.23H985V523.48H982ZM982 519.73H989V520.98H982ZM982 507.18H985V508.43H982ZM982 509.98H985V511.23H982ZM982 512.77H985V514.02H982ZM982 515.62H985V516.87H982Z" fill="#000"/>
<g font-size="10.0" fill="#000" stroke="#000" stroke-width="0.35"><text transform="translate(23.3 509.0) scale(1 1)" text-anchor="end">26.0</text><text transform="translate(1021.2 509.0) scale(1 1)" text-anchor="end">26.0</text><text transform="translate(23.3 495.2) scale(1 1)" text-anchor="end">26.5</text><text transform="translate(1021.2 495.2) scale(1 1)" text-anchor="end">26.5</text><text transform="translate(23.3 482.8) scale(1 1)" text-anchor="end">27.0</text><text transform="translate(1021.2 482.8) scale(1 1)" text-anchor="end">27.0</text><text transform="translate(23.3 470.2) scale(1 1)" text-anchor="end">27.5</text><text transform="translate(1021.2 470.2) scale(1 1)" text-anchor="end">27.5</text><text transform="translate(23.3 456.5) scale(1 1)" text-anchor="end">28.0</text><text transform="translate(1021.2 456.5) scale(1 1)" text-anchor="end">28.0</text><text transform="translate(23.3 444.0) scale(1 1)" text-anchor="end">28.5</text><text transform="translate(1021.2 444.0) scale(1 1)" text-anchor="end">28.5</text><text transform="translate(23.3 430.2) scale(1 1)" text-anchor="end">29.0</text><text transform="translate(1021.2 430.2) scale(1 1)" text-anchor="end">29.0</text><text transform="translate(23.3 417.8) scale(1 1)" text-anchor="end">29.5</text><text transform="translate(1021.2 417.8) scale(1 1)" text-anchor="end">29.5</text><text transform="translate(23.3 405.2) scale(1 1)" text-anchor="end">30.0</text><text transform="translate(1021.2 405.2) scale(1 1)" text-anchor="end">30.0</text><text transform="translate(23.3 391.5) scale(1 1)" text-anchor="end">30.5</text><text transform="translate(1021.2 391.5) scale(1 1)" text-anchor="end">30.5</text><text transform="translate(23.3 379.0) scale(1 1)" text-anchor="end">31.0</text><text transform="translate(1021.2 379.0) scale(1 1)" text-anchor="end">31.0</text><text transform="translate(23.3 366.5) scale(1 1)" text-anchor="end">31.5</text><text transform="translate(1021.2 366.5) scale(1 1)" text-anchor="end">31.5</text><text transform="translate(23.3 352.8) scale(1 1)" text-anchor="end">32.0</text><text transform="translate(1021.2 352.8) scale(1 1)" text-anchor="end">32.0</text><text transform="translate(23.3 340.2) scale(1 1)" text-anchor="end">32.5</text><text transform="translate(1021.2 340.2) scale(1 1)" text-anchor="end">32.5</text><text transform="translate(23.3 327.8) scale(1 1)" text-anchor="end">33.0</text><text transform="translate(1021.2 327.8) scale(1 1)" text-anchor="end">33.0</text><text transform="translate(23.3 314.0) scale(1 1)" text-anchor="end">33.5</text><text transform="translate(1021.2 314.0) scale(1 1)" text-anchor="end">33.5</text><text transform="translate(23.3 301.5) scale(1 1)" text-anchor="end">34.0</text><text transform="translate(1021.2 301.5) scale(1 1)" text-anchor="end">34.0</text><text transform="translate(23.3 289.0) scale(1 1)" text-anchor="end">34.5</text><text transform="translate(1021.2 289.0) scale(1 1)" text-anchor="end">34.5</text><text transform="translate(23.3 275.2) scale(1 1)" text-anchor="end">35.0</text><text transform="translate(1021.2 275.2) scale(1 1)" text-anchor="end">35.0</text><text transform="translate(23.3 262.8) scale(1 1)" text-anchor="end">35.5</text><text transform="translate(1021.2 262.8) scale(1 1)" text-anchor="end">35.5</text><text transform="translate(23.3 249.0) scale(1 1)" text-anchor="end">36.0</text><text transform="translate(1021.2 249.0) scale(1 1)" text-anchor="end">36.0</text><text transform="translate(23.3 236.5) scale(1 1)" text-anchor="end">36.5</text><text transform="translate(1021.2 236.5) scale(1 1)" text-anchor="end">36.5</text><text transform="translate(23.3 224.0) scale(1 1)" text-anchor="end">37.0</text><text transform="translate(1021.2 224.0) scale(1 1)" text-anchor="end">37.0</text><text transform="translate(23.3 210.2) scale(1 1)" text-anchor="end">37.5</text><text transform="translate(1021.2 210.2) scale(1 1)" text-anchor="end">37.5</text><text transform="translate(23.3 197.8) scale(1 1)" text-anchor="end">38.0</text><text transform="translate(1021.2 197.8) scale(1 1)" text-anchor="end">38.0</text><text transform="translate(23.3 185.2) scale(1 1)" text-anchor="end">38.5</text><text transform="translate(1021.2 185.2) scale(1 1)" text-anchor="end">38.5</text><text transform="translate(23.3 171.5) scale(1 1)" text-anchor="end">39.0</text><text transform="translate(1021.2 171.5) scale(1 1)" text-anchor="end">39.0</text><text transform="translate(23.3 159.0) scale(1 1)" text-anchor="end">39.5</text><text transform="translate(1021.2 159.0) scale(1 1)" text-anchor="end">39.5</text><text transform="translate(23.3 146.5) scale(1 1)" text-anchor="end">40.0</text><text transform="translate(1021.2 146.5) scale(1 1)" text-anchor="end">40.0</text><text transform="translate(23.3 132.8) scale(1 1)" text-anchor="end">40.5</text><text transform="translate(1021.2 132.8) scale(1 1)" text-anchor="end">40.5</text><text transform="translate(23.3 120.2) scale(1 1)" text-anchor="end">41.0</text><text transform="translate(1021.2 120.2) scale(1 1)" text-anchor="end">41.0</text><text transform="translate(23.3 107.8) scale(1 1)" text-anchor="end">41.5</text><text transform="translate(1021.2 107.8) scale(1 1)" text-anchor="end">41.5</text><text transform="translate(23.3 94.0) scale(1 1)" text-anchor="end">42.0</text><text transform="translate(1021.2 94.0) scale(1 1)" text-anchor="end">42.0</text><text transform="translate(23.3 81.5) scale(1 1)" text-anchor="end">42.5</text><text transform="translate(1021.2 81.5) scale(1 1)" text-anchor="end">42.5</text><text transform="translate(23.3 67.8) scale(1 1)" text-anchor="end">43.0</text><text transform="translate(1021.2 67.8) scale(1 1)" text-anchor="end">43.0</text><text transform="translate(23.3 55.2) scale(1 1)" text-anchor="end">43.5</text><text transform="translate(1021.2 55.2) scale(1 1)" text-anchor="end">43.5</text><text transform="translate(23.3 42.8) scale(1 1)" text-anchor="end">44.0</text><text transform="translate(1021.2 42.8) scale(1 1)" text-anchor="end">44.0</text><text transform="translate(23.3 29.0) scale(1 1)" text-anchor="end">44.5</text><text transform="translate(1021.2 29.0) scale(1 1)" text-anchor="end">44.5</text><text transform="translate(23.3 16.5) scale(1 1)" text-anchor="end">45.0</text><text transform="translate(1021.2 16.5) scale(1 1)" text-anchor="end">45.0</text><text transform="translate(23.3 701.9) scale(1 1)" text-anchor="end">-5000</text><text transform="translate(1021.2 701.9) scale(1 1)" text-anchor="end">-5000</text><text transform="translate(23.3 685.6) scale(1 1)" text-anchor="end">0</text><text transform="translate(1021.2 685.6) scale(1 1)" text-anchor="end">0</text><text transform="translate(23.3 669.4) scale(1 1)" text-anchor="end">5000</text><text transform="translate(1021.2 669.4) scale(1 1)" text-anchor="end">5000</text><text transform="translate(23.3 653.1) scale(1 1)" text-anchor="end">10000</text><text transform="translate(1021.2 653.1) scale(1 1)" text-anchor="end">10000</text><text transform="translate(23.3 636.9) scale(1 1)" text-anchor="end">15000</text><text transform="translate(1021.2 636.9) scale(1 1)" text-anchor="end">15000</text><text transform="translate(23.3 620.6) scale(1 1)" text-anchor="end">20000</text><text transform="translate(1021.2 620.6) scale(1 1)" text-anchor="end">20000</text><text transform="translate(23.3 604.4) scale(1 1)" text-anchor="end">25000</text><text transform="translate(1021.2 604.4) scale(1 1)" text-anchor="end">25000</text><text transform="translate(23.3 588.1) scale(1 1)" text-anchor="end">30000</text><text transform="translate(1021.2 588.1) scale(1 1)" text-anchor="end">30000</text><text transform="translate(23.3 573.1) scale(1 1)" text-anchor="end">35000</text><text transform="translate(1021.2 573.1) scale(1 1)" text-anchor="end">35000</text><text transform="translate(23.3 556.9) scale(1 1)" text-anchor="end">40000</text><text transform="translate(1021.2 556.9) scale(1 1)" text-anchor="end">40000</text><text transform="translate(23.3 540.6) scale(1 1)" text-anchor="end">45000</text><text transform="translate(1021.2 540.6) scale(1 1)" text-anchor="end">45000</text><text transform="translate(23.3 524.4) scale(1 1)" text-anchor="end">50000</text><text transform="translate(1021.2 524.4) scale(1 1)" text-anchor="end">50000</text></g>
<rect x="-10" y="695.3" width="22.4" height="12" fill="#fff"/><path d="M0 695.3H12.4V707" stroke="#000" stroke-width="1" fill="none"/><text x="10.2" y="703.8" font-size="7.9" text-anchor="end" fill="#000" stroke="#000" stroke-width="0.35">x100</text>
<rect x="983.4" y="695.3" width="20" height="12" fill="#fff"/><path d="M983.4 707V695.3H1003.4V707" stroke="#000" stroke-width="1" fill="none"/><text x="984.9" y="703.8" font-size="7.9" fill="#000" stroke="#000" stroke-width="0.35">x100</text>
<rect x="33" y="720" width="949.5" height="1" fill="#000"/>
<path d="M48.25 707V720.5M70.75 707V720.5M93.75 707V720.5M116.75 707V720.5M135.50 707V720.5M158.25 707V720.5M181.50 707V720.5M204.50 707V720.5M227.25 707V720.5M250.00 707V720.5M273.50 707V720.5M296.00 707V720.5M319.00 707V720.5M336.50 707V720.5M360.50 707V720.5M383.50 707V720.5M406.50 707V720.5M430.00 707V720.5M452.50 707V720.5M475.50 707V720.5M497.50 707V720.5M520.00 707V720.5M542.50 707V720.5M565.25 707V720.5M584.50 707V720.5M607.50 707V720.5M630.50 707V720.5M653.50 707V720.5M676.25 707V720.5M699.00 707V720.5M722.00 707V720.5M745.00 707V720.5M777.50 707V720.5M799.25 707V720.5M822.00 707V720.5M845.00 707V720.5M868.00 707V720.5M890.50 707V720.5M913.50 707V720.5M936.00 707V720.5M960.00 707V720.5M85.00 707V734M181.50 707V734M278.00 707V734M378.50 707V734M475.50 707V734M575.50 707V734M671.00 707V734M759.00 707V734M859.25 707V734M950.50 707V734" stroke="#000" stroke-width="1" fill="none"/>
<g font-size="10.0" fill="#000" stroke="#000" stroke-width="0.35" clip-path="url(#bot)"><text x="27.7" y="717.2">15</text><text x="50.6" y="717.2">22</text><text x="73.2" y="717.2">29</text><text x="96.2" y="717.2">5</text><text x="119.2" y="717.2">12</text><text x="137.9" y="717.2">19</text><text x="160.7" y="717.2">26</text><text x="183.9" y="717.2">3</text><text x="206.9" y="717.2">10</text><text x="229.7" y="717.2">17</text><text x="252.4" y="717.2">24</text><text x="275.9" y="717.2">31</text><text x="298.4" y="717.2">7</text><text x="321.4" y="717.2">14</text><text x="338.9" y="717.2">21</text><text x="362.9" y="717.2">28</text><text x="385.9" y="717.2">4</text><text x="408.9" y="717.2">11</text><text x="432.4" y="717.2">18</text><text x="454.9" y="717.2">25</text><text x="477.9" y="717.2">2</text><text x="499.9" y="717.2">9</text><text x="522.4" y="717.2">16</text><text x="544.9" y="717.2">23</text><text x="567.6" y="717.2">30</text><text x="586.9" y="717.2">6</text><text x="609.9" y="717.2">13</text><text x="632.9" y="717.2">20</text><text x="655.9" y="717.2">27</text><text x="678.6" y="717.2">4</text><text x="701.4" y="717.2">11</text><text x="724.4" y="717.2">18</text><text x="747.4" y="717.2">27</text><text x="779.9" y="717.2">8</text><text x="801.6" y="717.2">15</text><text x="824.4" y="717.2">22</text><text x="847.4" y="717.2">29</text><text x="870.4" y="717.2">5</text><text x="892.9" y="717.2">12</text><text x="915.9" y="717.2">19</text><text x="938.4" y="717.2">26</text><text x="962.4" y="717.2">5</text><text x="87.2" y="730.3">June</text><text x="183.7" y="730.3">July</text><text x="280.2" y="730.3">August</text><text x="380.7" y="730.3">September</text><text x="477.7" y="730.3">October</text><text x="577.7" y="730.3">November</text><text x="673.2" y="730.3">December</text><text x="761.2" y="730.3">2007</text><text x="861.5" y="730.3">February</text><text x="952.7" y="730.3">March</text></g>
<text x="116.4" y="51.7" font-size="16.2" font-weight="bold" fill="#000">KURS SPÓŁKI AGORA</text>
<text x="723.2" y="656.3" font-size="13.8" font-weight="bold" fill="#000">KRZYWA OBV</text>
</svg></body></html>
